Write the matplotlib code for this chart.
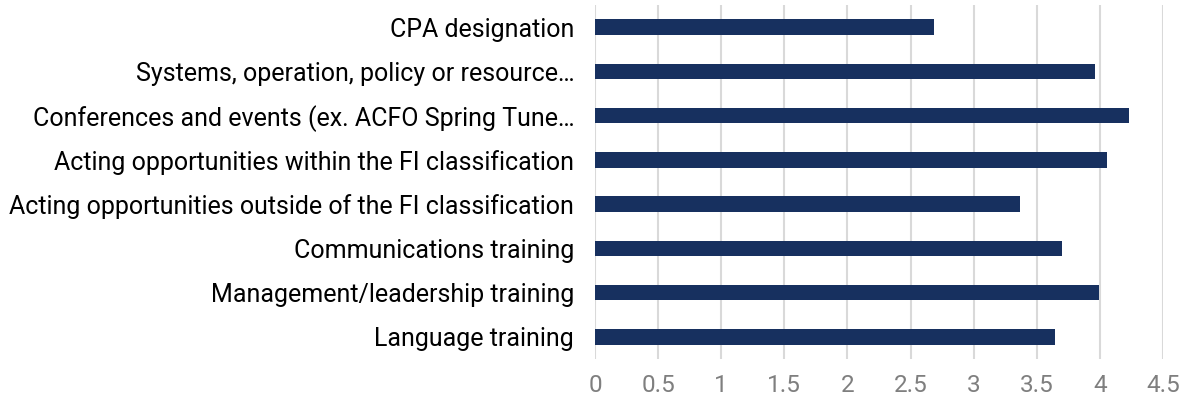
import matplotlib
matplotlib.use("Agg")
import matplotlib.pyplot as plt

categories = [
    "CPA designation",
    "Systems, operation, policy or resource…",
    "Conferences and events (ex. ACFO Spring Tune…",
    "Acting opportunities within the FI classification",
    "Acting opportunities outside of the FI classification",
    "Communications training",
    "Management/leadership training",
    "Language training",
]
values = [2.685, 3.96, 4.23, 4.055, 3.365, 3.70, 3.995, 3.645]
xticks = [0, 0.5, 1, 1.5, 2, 2.5, 3, 3.5, 4, 4.5]
xticklabels = ["0", "0.5", "1", "1.5", "2", "2.5", "3", "3.5", "4", "4.5"]

plt.rcParams['font.family'] = ['Roboto', 'DejaVu Sans']

fig = plt.figure(figsize=(11.81, 4.01), dpi=100)
ax = fig.add_axes([595/1181, 1-359/401, (1163-595)/1181, (359-5)/401])

ypos = list(range(len(categories)))
ax.barh(ypos, values, height=0.35, color="#17305F", zorder=3)
ax.set_ylim(len(categories) - 0.5, -0.5)
ax.set_xlim(0, 4.5)
ax.set_xticks(xticks)
ax.set_xticklabels(xticklabels)
ax.set_yticks(ypos)
ax.set_yticklabels(categories)

ax.grid(axis='x', color="#D9D9D9", linewidth=1.5, zorder=0)
ax.set_axisbelow(True)
for s in ax.spines.values():
    s.set_visible(False)
ax.tick_params(axis='y', length=0, pad=15, labelsize=18, labelcolor="#000000")
ax.tick_params(axis='x', length=0, pad=11, labelsize=17.5, labelcolor="#7F7F7F")

fig.savefig("out.png", dpi=100)
